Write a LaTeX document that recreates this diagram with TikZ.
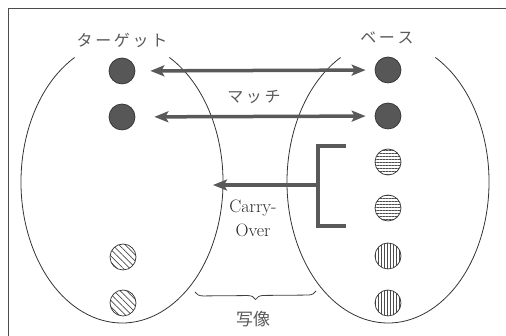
\documentclass[tikz,border=0pt]{standalone}
\usepackage{fontspec}
\newfontfamily\jafont{Noto Sans CJK JP}
\usetikzlibrary{calc,arrows.meta,patterns.meta,decorations.pathreplacing}

\tikzset{
  ballbase/.style={circle, draw=black!80, line width=0.7pt, minimum size=26pt, inner sep=0pt},
  ballfull/.style={ballbase, fill=black!66},
  ballhor/.style={ballbase, pattern={Lines[angle=0,distance=3pt,line width=0.7pt]}, pattern color=black!70},
  ballver/.style={ballbase, pattern={Lines[angle=90,distance=3pt,line width=0.7pt]}, pattern color=black!70},
  balldiag/.style={ballbase, pattern={Lines[angle=-45,distance=4.5pt,line width=0.7pt]}, pattern color=black!70},
  setline/.style={black!80, line width=0.8pt},
  maparrow/.style={black!65, line width=3.5pt, {Stealth[length=14pt,width=11pt,inset=3pt]}-{Stealth[length=14pt,width=11pt,inset=3pt]}},
  jalabel/.style={text=black!65, font=\jafont\fontsize{16}{18}\selectfont}
}

\begin{document}
\begin{tikzpicture}[x=1pt,y=1pt]
  \useasboundingbox (0,0) rectangle (506,336);
  \draw[black!70, line width=0.8pt] (8,0) -- (8,328) -- (506,328);

  % the two sets
  \coordinate (tc) at (122,154);
  \coordinate (bc) at (388,154);
  \draw[setline] ($(tc)+(118:101pt and 141pt)$) arc[start angle=118, end angle=422, x radius=101pt, y radius=141pt];
  \draw[setline] ($(bc)+(118:101pt and 141pt)$) arc[start angle=118, end angle=422, x radius=101pt, y radius=141pt];

  \node[jalabel] (tlabel) at (122,296) {タ\,ー\,ゲ\,ッ\,ト};
  \node[jalabel] (blabel) at (387,298) {ベ\,ー\,ス};

  % target side
  \node[ballfull] (t1) at (122,265) {};
  \node[ballfull] (t2) at (122,219) {};
  \node[balldiag] (t3) at (123,79) {};
  \node[balldiag] (t4) at (123,33) {};

  % base side
  \node[ballfull] (b1) at (388,266) {};
  \node[ballfull] (b2) at (388,220) {};
  \node[ballhor] (b3) at (388,174) {};
  \node[ballhor] (b4) at (388,128) {};
  \node[ballver] (b5) at (388,80) {};
  \node[ballver] (b6) at (388,33) {};

  % match
  \draw[maparrow, shorten <=15pt, shorten >=9pt] (t1) -- (b1);
  \draw[maparrow, shorten <=19pt, shorten >=9pt] (t2) -- (b2);
  \node[jalabel] (matchlabel) at (254,239) {マ\,ッ\,チ};

  % carry-over
  \coordinate (cofoot) at (318,151);
  \coordinate (cotip) at (213,151);
  \draw[black!65, line width=3.5pt] (346,190) -- (318,190) -- (318,110) -- (346,110);
  \draw[black!65, line width=3.5pt, -{Stealth[length=14pt,width=11pt,inset=3pt]}] (cofoot) -- (cotip);
  \node[text=black!85, align=center, font=\fontsize{18}{24}\selectfont] (colabel) at (253,118) {Carry-\\Over};

  % mapping
  \draw[black!75, line width=0.8pt, decorate, decoration={brace, amplitude=8pt}] (316,45) -- (195,44);
  \node[jalabel, font=\jafont\fontsize{17}{18}\selectfont] (maplabel) at (253,17) {写像};
\end{tikzpicture}
\end{document}
